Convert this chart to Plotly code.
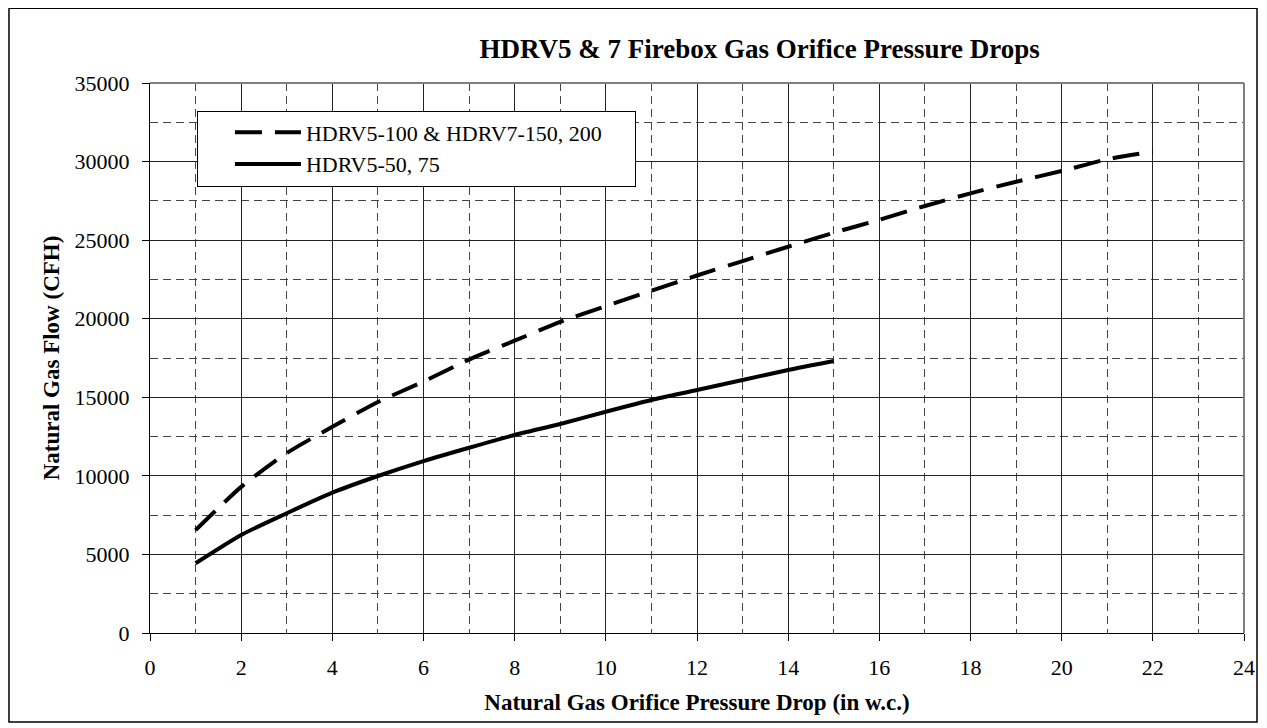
import plotly.graph_objects as go

# pressure drop (in w.c.)
drop_large = list(range(1, 23))
drop_small = list(range(1, 16))

# flow (CFH)
flow_large = [6550, 9300, 11450, 13120, 14700, 16000, 17400, 18600, 19800, 20800, 21780,
              22750, 23670, 24580, 25470, 26300, 27170, 27980, 28720, 29400, 30150, 30630]
flow_small = [4440, 6240, 7620, 8930, 9990, 10940, 11790, 12600, 13300, 14080, 14830,
              15460, 16100, 16740, 17310]

name_large = "HDRV5-100 & HDRV7-150, 200"
name_small = "HDRV5-50, 75"

x_ticks = list(range(0, 25, 2))
y_ticks = list(range(0, 35001, 5000))

FONT = "Liberation Serif, Times New Roman, serif"
PAD = "&nbsp;" * 5  # extra room on the right of the legend box

fig = go.Figure()

fig.add_trace(go.Scatter(
    x=drop_large, y=flow_large, mode="lines", name=name_large + PAD,
    line=dict(color="black", width=4, dash="27px,13px", shape="spline", smoothing=0.6),
))
fig.add_trace(go.Scatter(
    x=drop_small, y=flow_small, mode="lines", name=name_small,
    line=dict(color="black", width=4, shape="spline", smoothing=0.6),
))

axis_common = dict(
    showline=True, linecolor="black", linewidth=1,
    showgrid=True, gridcolor="#222222", gridwidth=1,
    ticks="outside", ticklen=7, tickcolor="black", tickwidth=1,
    ticklabelstandoff=8, tickformat="d",
    zeroline=False,
    tickfont=dict(family=FONT, size=22, color="black"),
)

fig.update_xaxes(
    range=[0, 24], tickvals=x_ticks,
    minor=dict(dtick=1, showgrid=True, gridcolor="#444444", gridwidth=1,
               griddash="8px,5px", ticks=""),
    title=dict(text="<b>Natural Gas Orifice Pressure Drop (in w.c.)</b>",
               font=dict(family=FONT, size=23, color="black"), standoff=14),
    **axis_common,
)
fig.update_yaxes(
    range=[0, 35000], tickvals=y_ticks,
    minor=dict(dtick=2500, showgrid=True, gridcolor="#444444", gridwidth=1,
               griddash="8px,5px", ticks=""),
    title=dict(text="<b>Natural Gas Flow (CFH)</b>",
               font=dict(family=FONT, size=23, color="black"), standoff=8),
    **axis_common,
)

# grey top/right frame of the plot area and the outer chart border
fig.add_shape(type="line", xref="paper", yref="paper", x0=0, x1=1, y0=1, y1=1,
              line=dict(color="#808080", width=2), layer="above")
fig.add_shape(type="line", xref="paper", yref="paper", x0=1, x1=1, y0=0, y1=1,
              line=dict(color="#808080", width=2), layer="above")
fig.add_shape(type="rect", xref="paper", yref="paper",
              x0=-0.1289, x1=1.0119, y0=-0.162, y1=1.136,
              line=dict(color="black", width=1.5), layer="above")

fig.update_layout(
    width=1259, height=720,
    margin=dict(l=142, r=21, t=75, b=95),
    paper_bgcolor="white", plot_bgcolor="white",
    font=dict(family=FONT, color="black"),
    title=dict(text="<b>HDRV5 & 7 Firebox Gas Orifice Pressure Drops</b>",
               x=0.597, xanchor="center", y=0.944, yanchor="middle",
               font=dict(family=FONT, size=27, color="black")),
    legend=dict(x=0.0429, y=0.95, xanchor="left", yanchor="top",
                bgcolor="white", bordercolor="black", borderwidth=1,
                font=dict(family=FONT, size=22, color="black"),
                title=dict(text="&nbsp;" * 4, side="left",
                           font=dict(family=FONT, size=22)),
                itemwidth=66, tracegroupgap=0),
    showlegend=True,
)

fig.write_html("out.html")
